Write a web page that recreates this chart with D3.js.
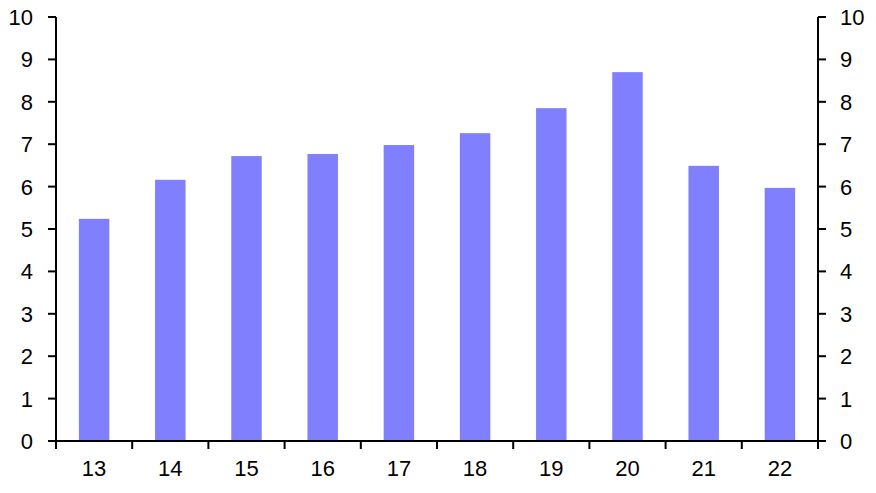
<!DOCTYPE html>
<html><head><meta charset="utf-8">
<script src="https://cdn.jsdelivr.net/npm/d3@7"></script>
<style>body{margin:0;background:#fff}svg{display:block}text{font-family:"Liberation Sans",Arial,sans-serif;font-size:22px;fill:#000}</style>
</head><body>
<svg id="c" width="876" height="493"></svg>
<script>
const categories = ["13","14","15","16","17","18","19","20","21","22"];
const values = [5.24, 6.16, 6.72, 6.77, 6.98, 7.26, 7.85, 8.70, 6.49, 5.97];
const yTicks = [0,1,2,3,4,5,6,7,8,9,10];

const svg = d3.select("#c");
const L = 56, R = 818, T = 17, B = 441;
const x = d3.scaleBand().domain(categories).range([L, R]).paddingInner(0.6).paddingOuter(0.3);
const y = d3.scaleLinear().domain([0, 10]).range([B, T]);

svg.selectAll("rect.bar").data(values).enter().append("rect")
  .attr("class","bar")
  .attr("x",(d,i)=>x(categories[i]))
  .attr("width",x.bandwidth())
  .attr("y",d=>y(d))
  .attr("height",d=>y(0)-y(d))
  .attr("fill","#8080FF");

const g = svg.append("g");
g.append("line").attr("x1",L).attr("x2",L).attr("y1",T).attr("y2",B).attr("stroke","#000").attr("stroke-width",2);
g.append("line").attr("x1",R).attr("x2",R).attr("y1",T).attr("y2",B).attr("stroke","#000").attr("stroke-width",2);
g.append("line").attr("x1",L-8).attr("x2",R+8).attr("y1",B).attr("y2",B).attr("stroke","#000").attr("stroke-width",2);

yTicks.forEach(t=>{
  g.append("line").attr("x1",L-8).attr("x2",L).attr("y1",y(t)).attr("y2",y(t)).attr("stroke","#000").attr("stroke-width",2);
  g.append("line").attr("x1",R).attr("x2",R+8).attr("y1",y(t)).attr("y2",y(t)).attr("stroke","#000").attr("stroke-width",2);
  g.append("text").attr("x",33).attr("y",y(t)).attr("dy","0.36em").attr("text-anchor","end").text(t);
  g.append("text").attr("x",840).attr("y",y(t)).attr("dy","0.36em").attr("text-anchor","start").text(t);
});
const bounds = d3.range(categories.length+1).map(i=>L + i*(R-L)/categories.length);
bounds.forEach(b=>{
  g.append("line").attr("x1",b).attr("x2",b).attr("y1",B).attr("y2",B+8).attr("stroke","#000").attr("stroke-width",2);
});
categories.forEach(c=>{
  g.append("text").attr("x",x(c)+x.bandwidth()/2).attr("y",476).attr("text-anchor","middle").text(c);
});
</script>
</body></html>
